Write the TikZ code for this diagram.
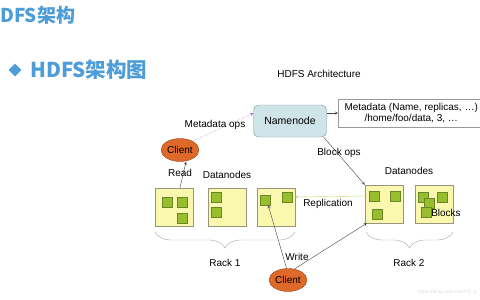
\documentclass[tikz,border=0pt]{standalone}
\usepackage{fontspec}
\setmainfont{Liberation Sans}
\newfontfamily\cjk{Noto Sans CJK SC}
\usetikzlibrary{shapes.geometric,decorations.pathreplacing}

\definecolor{titleblue}{RGB}{78,156,216}
\definecolor{nnfill}{RGB}{206,228,233}
\definecolor{nnline}{RGB}{120,150,160}
\definecolor{dnfill}{RGB}{250,248,175}
\definecolor{dnline}{RGB}{150,150,120}
\definecolor{blkfill}{RGB}{150,190,45}
\definecolor{blkline}{RGB}{105,135,40}
\definecolor{clfill}{RGB}{222,105,40}
\definecolor{clline}{RGB}{150,75,30}
\definecolor{repl}{RGB}{195,220,110}
\definecolor{metaops}{RGB}{160,90,190}

\begin{document}
\begin{tikzpicture}[x=1pt,y=-1pt]
    % --- CONFIGURATION ---
    \tikzset{
        label_style/.style={font=\fontsize{10}{11.5}\selectfont},
        title_style/.style={font=\cjk\bfseries\fontsize{19}{21}\selectfont, text=titleblue, inner sep=0pt},
        nn_style/.style={draw=nnline, fill=nnfill, rounded corners=5pt, minimum width=73pt, minimum height=32pt, font=\fontsize{10.5}{12}\selectfont},
        dn_style/.style={draw=dnline, fill=dnfill, minimum size=\S pt, inner sep=0pt},
        blk_style/.style={draw=blkline, fill=blkfill, minimum size=10pt, inner sep=0pt},
        client_style/.style={ellipse, draw=clline, fill=clfill, minimum width=38pt, minimum height=23pt, inner sep=0pt, label_style},
        arrow_style/.style={->, >=stealth, thin, black!75},
        brace_style/.style={decorate, decoration={brace, amplitude=16pt}, gray!70, thin}
    }

    % Datanode size
    \def\S{38}

    \useasboundingbox (0,0) rectangle (480,300);

    % ===================================================
    % 1. TITLES
    % ===================================================
    \node[title_style, anchor=west] (t1) at (0,15) {DFS架构};
    \node[diamond, fill=titleblue, minimum size=13pt, inner sep=0pt] (bullet) at (15,70) {};
    \node[title_style, font=\cjk\bfseries\fontsize{20.5}{22}\selectfont, anchor=west] (t2) at (30,70) {HDFS架构图};
    \node[label_style] (arch) at (319,74) {HDFS Architecture};

    % ===================================================
    % 2. NAMENODE AND METADATA
    % ===================================================
    \node[nn_style] (nn) at (290,121) {Namenode};
    \node[draw=gray!80, fill=white, minimum width=146pt, minimum height=28pt, inner sep=1pt, align=center, label_style, anchor=west] (meta) at (338,113)
        {Metadata (Name, replicas, \dots)\\[-1pt] /home/foo/data, 3, \dots};
    \draw[arrow_style] (nn.east |- meta.west) -- (meta.west);

    % ===================================================
    % 3. DATANODES (RACK 1 AND RACK 2)
    % ===================================================
    \foreach \n/\x/\y in {dn1/174/207, dn2/227/207, dn3/276/207, dn4/384/204, dn5/434/204} {
        \node[dn_style] (\n) at (\x,\y) {};
    }

    % Blocks
    \foreach \n/\x/\y in {b11/167/202, b12/182/202, b13/182/218,
                          b21/216/197, b22/216/212,
                          b31/265/200, b32/287/197,
                          b41/374/196, b42/395/196, b43/377/214,
                          b51/423/197, b52/429/203, b53/442/197, b54/426/212} {
        \node[blk_style] (\n) at (\x,\y) {};
    }

    \node[label_style] (dnl1) at (227,175) {Datanodes};
    \node[label_style] (dnl2) at (409,171) {Datanodes};
    \node[label_style] (blocks) at (446,213) {Blocks};

    % Racks
    \draw[brace_style] (295,232) -- (155,232);
    \draw[brace_style] (453,232) -- (366,232);
    \node[label_style] (rack1) at (225,263) {Rack 1};
    \node[label_style] (rack2) at (409,263) {Rack 2};

    % ===================================================
    % 4. CLIENTS
    % ===================================================
    \node[client_style] (client1) at (180,150) {Client};
    \node[client_style] (client2) at (288,280) {Client};

    % Read
    \draw[arrow_style] ([xshift=6pt]dn1.north) -- ([xshift=6pt]client1.south);
    \node[label_style] (read) at (180,173) {Read};

    % Metadata ops
    \draw[->, >=stealth, metaops, densely dotted] (client1.35) -- (nn.168);
    \node[label_style] (mops) at (215,125) {Metadata ops};

    % Block ops
    \draw[arrow_style] ([xshift=-3pt]nn.south east) -- (dn4.north west);
    \node[label_style] (bops) at (339,153) {Block ops};

    % Replication
    \draw[->, >=stealth, repl] (b41.west) -- (dn3.east |- b32.east);
    \node[label_style] (replic) at (328,204) {Replication};

    % Write
    \draw[arrow_style] (client2.97) -- ([xshift=-2pt]b31.south east);
    \draw[arrow_style] (client2.60) -- ([xshift=2pt]dn4.south west);
    \node[label_style] (write) at (297,257) {Write};

    % Watermark
    \node[font=\fontsize{5}{6}\selectfont, text=gray!25, anchor=west] (wm) at (414,292) {https://blog.csdn.net/m0\_4};

\end{tikzpicture}
\end{document}
